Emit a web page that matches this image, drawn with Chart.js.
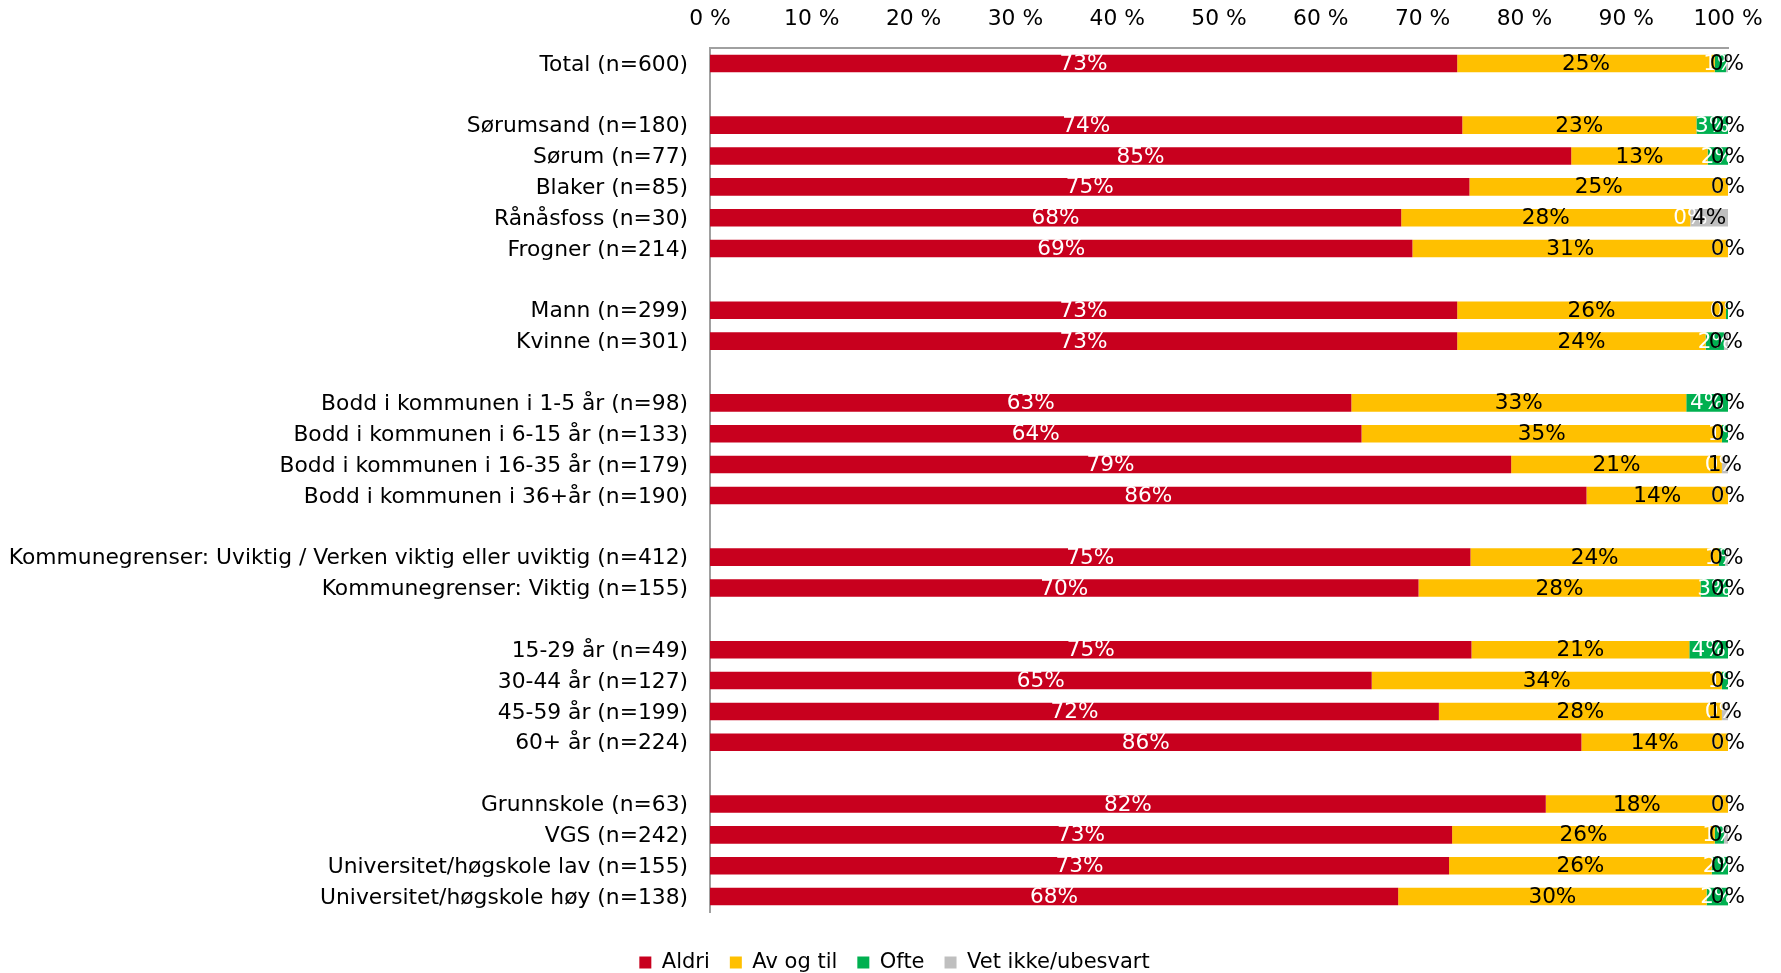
<!DOCTYPE html>
<html>
<head>
<meta charset="utf-8">
<script src="https://cdn.jsdelivr.net/npm/chart.js@4.4.1/dist/chart.umd.min.js"></script>
<style>
    html, body { margin: 0; padding: 0; background: #fff; }
    #wrap { width: 1781px; height: 973px; position: relative; }
</style>
</head>
<body>
<div id="wrap"><canvas id="chart"></canvas></div>
<script>
// Kategorier (tomme strenger = mellomrom mellom gruppene)
const categories = [
    'Total (n=600)', '',
    'Sørumsand (n=180)', 'Sørum (n=77)', 'Blaker (n=85)', 'Rånåsfoss (n=30)', 'Frogner (n=214)', '',
    'Mann (n=299)', 'Kvinne (n=301)', '',
    'Bodd i kommunen i 1-5 år (n=98)', 'Bodd i kommunen i 6-15 år (n=133)',
    'Bodd i kommunen i 16-35 år (n=179)', 'Bodd i kommunen i 36+år (n=190)', '',
    'Kommunegrenser: Uviktig / Verken viktig eller uviktig (n=412)', 'Kommunegrenser: Viktig (n=155)', '',
    '15-29 år (n=49)', '30-44 år (n=127)', '45-59 år (n=199)', '60+ år (n=224)', '',
    'Grunnskole (n=63)', 'VGS (n=242)', 'Universitet/høgskole lav (n=155)', 'Universitet/høgskole høy (n=138)'
];

// Andeler i prosent per kategori
const aldri   = [73.4, null, 73.9, 84.6, 74.6, 67.9, 69.0, null, 73.4, 73.4, null, 63.0, 64.0, 78.7, 86.1, null, 74.7, 69.6, null, 74.8, 65.0, 71.6, 85.6, null, 82.1, 72.9, 72.6, 67.6];
const avOgTil = [25.3, null, 23.0, 13.4, 25.4, 28.4, 31.0, null, 26.4, 24.4, null, 32.9, 35.4, 20.7, 13.9, null, 24.4, 27.7, null, 21.4, 34.4, 27.8, 14.4, null, 17.9, 25.8, 25.8, 30.3];
const ofte    = [1.1, null, 3.1, 2.0, 0, 0, 0, null, 0.2, 1.8, null, 4.1, 0.6, 0, 0, null, 0.6, 2.7, null, 3.8, 0.6, 0, 0, null, 0, 0.9, 1.6, 2.1];
const vetIkke = [0.2, null, 0, 0, 0, 3.7, 0, null, 0, 0.4, null, 0, 0, 0.6, 0, null, 0.3, 0, null, 0, 0, 0.6, 0, null, 0, 0.4, 0, 0];

const seriesNames  = ['Aldri', 'Av og til', 'Ofte', 'Vet ikke/ubesvart'];
const seriesValues = [aldri, avOgTil, ofte, vetIkke];
const seriesColors = ['#C8001E', '#FFC000', '#00B050', '#BFBFBF'];
const labelColors  = ['#ffffff', '#000000', '#ffffff', '#000000'];

Chart.defaults.font.family = '"DejaVu Sans", Verdana, sans-serif';
Chart.defaults.color = '#000';

// Verdietiketter midt i hvert segment (også for 0 %)
const segmentLabels = {
    id: 'segmentLabels',
    afterDatasetsDraw(chart) {
        const ctx = chart.ctx;
        ctx.save();
        ctx.font = '21.6px "DejaVu Sans", Verdana, sans-serif';
        ctx.textAlign = 'center';
        ctx.textBaseline = 'middle';
        chart.data.datasets.forEach((ds, i) => {
            const meta = chart.getDatasetMeta(i);
            meta.data.forEach((bar, j) => {
                const v = ds.data[j];
                if (v === null || v === undefined) return;
                ctx.fillStyle = labelColors[i];
                ctx.fillText(Math.round(v) + '%', (bar.x + bar.base) / 2, bar.y + 1);
            });
        });
        ctx.restore();
    }
};

new Chart(document.getElementById('chart'), {
    type: 'bar',
    data: {
        labels: categories,
        datasets: seriesNames.map((name, i) => ({
            label: name,
            data: seriesValues[i],
            backgroundColor: seriesColors[i],
            borderWidth: 0,
            barPercentage: 0.57,
            categoryPercentage: 1.0
        }))
    },
    options: {
        indexAxis: 'y',
        responsive: true,
        maintainAspectRatio: false,
        animation: false,
        devicePixelRatio: 1,
        layout: { padding: { top: 0, right: 0, bottom: -10, left: 8 } },
        scales: {
            x: {
                position: 'top',
                stacked: true,
                min: 0,
                max: 100,
                grid: { display: false, drawTicks: false },
                border: { display: true, color: '#a0a0a0', width: 2 },
                ticks: {
                    stepSize: 10,
                    padding: 16,
                    color: '#000',
                    font: { size: 21.8 },
                    callback: v => v + ' %'
                },
                afterFit: scale => { scale.height = 48; }
            },
            y: {
                stacked: true,
                grid: { display: false, drawTicks: false },
                border: { display: true, color: '#a0a0a0', width: 2 },
                ticks: {
                    autoSkip: false,
                    padding: 22,
                    labelOffset: 1.5,
                    color: '#000',
                    font: { size: 21.8 }
                },
                afterFit: scale => { scale.width = 702; }
            },
            // tom akse til høyre: gir plass til 0%-etikettene og holder legenden midtstilt
            yRight: {
                type: 'linear',
                position: 'right',
                min: 0,
                max: 1,
                grid: { display: false, drawTicks: false },
                border: { display: false },
                ticks: { display: false },
                afterFit: scale => { scale.width = 53; }
            }
        },
        plugins: {
            legend: {
                position: 'bottom',
                labels: {
                    boxWidth: 12,
                    boxHeight: 12,
                    padding: 20,
                    color: '#000',
                    font: { size: 21 }
                },
                title: { display: true, text: '', padding: { top: 0, bottom: 10 }, font: { size: 10, lineHeight: 1 } }
            },
            tooltip: { enabled: false }
        }
    },
    plugins: [segmentLabels]
});
</script>
</body>
</html>
